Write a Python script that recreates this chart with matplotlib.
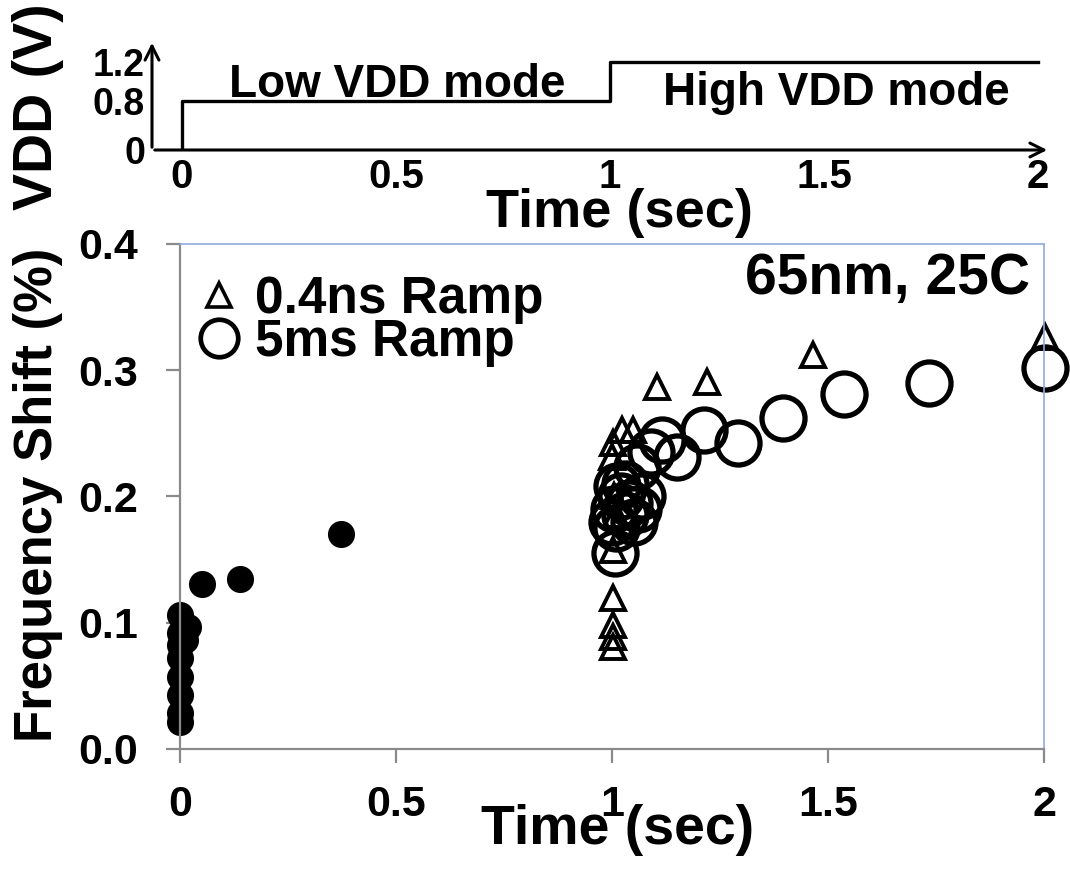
import matplotlib
matplotlib.use("Agg")
import matplotlib.pyplot as plt
import numpy as np
from matplotlib.lines import Line2D

plt.rcParams['font.family'] = ['Liberation Sans', 'DejaVu Sans']
plt.rcParams['font.weight'] = 'bold'

# VDD schedule (top panel)
vdd_t = [0, 0, 1, 1, 2]
vdd_v = [0, 0.8, 0.8, 1.2, 1.2]
vdd_ticks = [0, 0.8, 1.2]
vdd_tick_labels = ["0", "0.8", "1.2"]
time_ticks = [0, 0.5, 1, 1.5, 2]
time_tick_labels = ["0", "0.5", "1", "1.5", "2"]

# low VDD mode (filled dots)
low_t = [0.0, 0.0, 0.0, 0.0, 0.0, 0.0, 0.0, 0.0, 0.012, 0.0185, 0.051, 0.139, 0.373]
low_f = [0.021, 0.0285, 0.043, 0.057, 0.072, 0.082, 0.092, 0.106, 0.086, 0.097, 0.131, 0.135, 0.170]

# 0.4ns ramp (triangles)
fast_t = [1.002, 1.002, 1.002, 1.002, 1.002, 1.005, 1.01, 1.0, 1.002, 1.023, 1.049,
          1.104, 1.22, 1.465, 2.002]
fast_f = [0.081, 0.089, 0.098, 0.120, 0.158, 0.20, 0.185, 0.231, 0.242, 0.253, 0.253,
          0.287, 0.291, 0.312, 0.326]

# 5ms ramp (open circles)
slow_t = [1.007, 1.0, 1.005, 1.01, 1.02, 1.03, 1.04, 1.05, 1.06, 1.07, 1.03, 1.012,
          1.058, 1.09, 1.116, 1.150, 1.213, 1.292, 1.396, 1.537, 1.734, 2.002]
slow_f = [0.155, 0.18, 0.19, 0.175, 0.20, 0.185, 0.195, 0.18, 0.19, 0.20, 0.21, 0.208,
          0.223, 0.235, 0.245, 0.231, 0.253, 0.242, 0.262, 0.281, 0.290, 0.302]

# the VDD axis of the original is drawn schematically (not linear)
vdd_in = [0, 0.8, 1.2, 2.0]
vdd_px = [0, 49, 88, 166]


def vdd_fwd(v):
    return np.interp(v, vdd_in, vdd_px)


def vdd_inv(p):
    return np.interp(p, vdd_px, vdd_in)


fig = plt.figure(figsize=(10.7, 8.69), dpi=100)

# ---- top panel: VDD vs time ----
top = fig.add_axes([152 / 1070, 1 - 150 / 869, 898 / 1070, 110 / 869])
top.plot(vdd_t, vdd_v, color='black', lw=2.4)
top.set_yscale('function', functions=(vdd_fwd, vdd_inv))
top.set_xlim(-30 / 428, 868 / 428)
top.set_ylim(0, vdd_inv(110))
for s in top.spines.values():
    s.set_visible(False)
top.annotate('', xy=(1.0, 0), xytext=(0, 0), xycoords='axes fraction',
             arrowprops=dict(arrowstyle='->', lw=2.2, color='black', mutation_scale=25))
top.annotate('', xy=(0, 1.0), xytext=(0, 0), xycoords='axes fraction',
             arrowprops=dict(arrowstyle='->', lw=2.2, color='black', mutation_scale=25))
top.set_xticks(time_ticks)
top.set_xticklabels(time_tick_labels)
top.set_yticks(vdd_ticks)
top.set_yticklabels(vdd_tick_labels)
top.minorticks_off()
top.tick_params(axis='x', length=0, pad=6, labelsize=29)
top.tick_params(axis='y', length=0, pad=5, labelsize=27)
top.set_xlabel("Time (sec)", fontsize=39, fontweight='bold')
top.xaxis.set_label_coords(0.521, -0.57)
top.xaxis.label.set_va('center')
top.set_ylabel("VDD (V)", fontsize=40, fontweight='bold')
top.yaxis.set_label_coords(-0.127, 0.39)
top.yaxis.label.set_va('center')
top.text(0.502, 0.59, "Low VDD mode", fontsize=33, fontweight='bold',
         ha='center', va='center', transform=top.get_xaxis_transform())
top.text(1.53, 0.52, "High VDD mode", fontsize=33, fontweight='bold',
         ha='center', va='center', transform=top.get_xaxis_transform())

# ---- main panel: frequency shift vs time ----
ax = fig.add_axes([180 / 1070, 1 - 749 / 869, 864 / 1070, 505 / 869])
ax.plot(low_t, low_f, 'o', color='black', ms=19.5, mew=0, clip_on=False)
ax.plot(fast_t, fast_f, '^', mfc='none', mec='black', ms=17, mew=2.8, clip_on=False)
ax.plot(slow_t, slow_f, 'o', mfc='none', mec='black', ms=31, mew=3.8, clip_on=False)
ax.set_xlim(0, 2)
ax.set_ylim(0, 0.4)
ax.set_xticks(time_ticks)
ax.set_xticklabels(time_tick_labels)
ax.set_yticks([0, 0.1, 0.2, 0.3, 0.4])
ax.set_yticklabels(["0.0", "0.1", "0.2", "0.3", "0.4"])
gray = '#8a8a8a'
blue = '#8faadc'
ax.spines['left'].set_color(gray)
ax.spines['bottom'].set_color(gray)
ax.spines['left'].set_linewidth(1.6)
ax.spines['bottom'].set_linewidth(1.6)
ax.spines['top'].set_color(blue)
ax.spines['right'].set_color(blue)
ax.spines['top'].set_linewidth(1.2)
ax.spines['right'].set_linewidth(1.2)
ax.tick_params(axis='both', direction='out', length=10, width=1.6, color=gray,
               labelsize=31)
ax.tick_params(axis='x', pad=16)
ax.tick_params(axis='y', pad=20)
ax.set_xlabel("Time (sec)", fontsize=40, fontweight='bold')
ax.xaxis.set_label_coords(0.506, -0.16)
ax.xaxis.label.set_va('center')
ax.set_ylabel("Frequency Shift (%)", fontsize=38, fontweight='bold')
ax.yaxis.set_label_coords(-0.164, 0.503)
ax.yaxis.label.set_va('center')

handles = [Line2D([], [], marker='^', ls='none', mfc='none', mec='black', ms=17, mew=2.6),
           Line2D([], [], marker='o', ls='none', mfc='none', mec='black', ms=27, mew=3.4)]
ax.legend(handles, ["0.4ns Ramp", "5ms Ramp"], loc='upper left',
          bbox_to_anchor=(-0.008, 0.99), frameon=False, fontsize=37,
          handlelength=0.8, handletextpad=0.3, labelspacing=-0.11,
          borderaxespad=0.3, borderpad=0.2)
ax.text(0.819, 0.931, "65nm, 25C", transform=ax.transAxes, fontsize=41,
        fontweight='bold', ha='center', va='center')

fig.savefig("out.png", dpi=100)
